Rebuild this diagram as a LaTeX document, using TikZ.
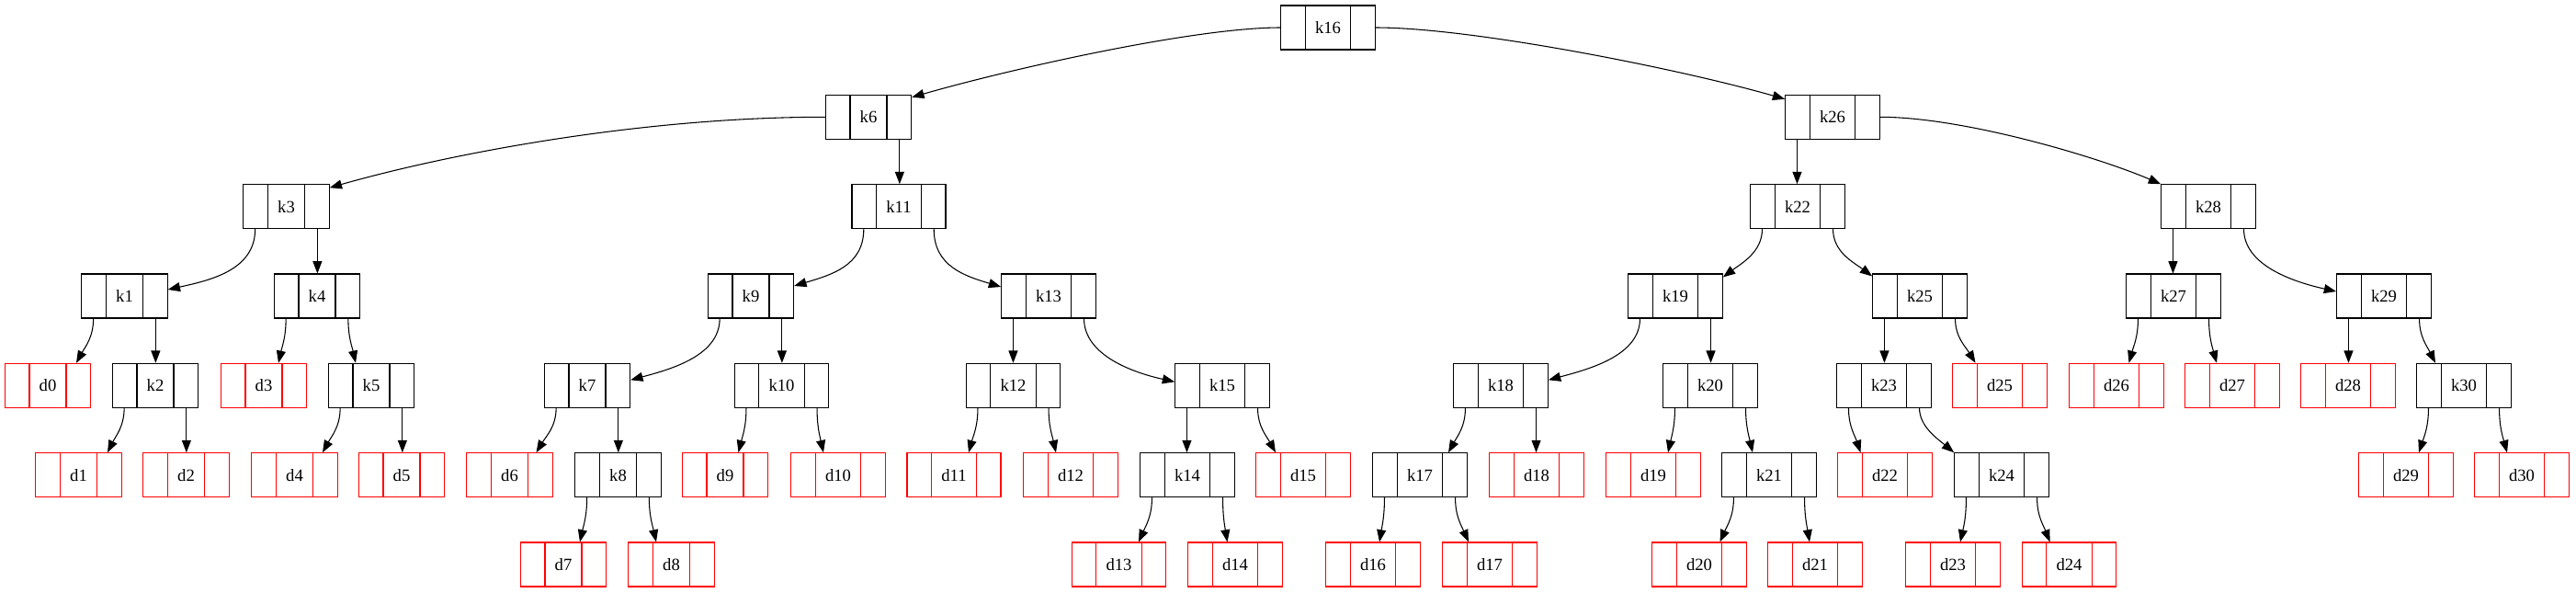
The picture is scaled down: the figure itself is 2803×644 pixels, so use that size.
\documentclass[tikz,border=0pt]{standalone}
\usepackage{fontspec}
\setmainfont{Liberation Serif}
\usetikzlibrary{arrows.meta,calc}
\tikzset{
  rec/.style={draw=#1, line width=0.8pt, inner xsep=28pt, inner ysep=0pt,
    minimum height=36pt, font=\fontsize{14pt}{16pt}\selectfont, text=black,
    path picture={
      \draw[#1, line width=0.8pt] ([xshift=20pt]path picture bounding box.south west) -- ([xshift=20pt]path picture bounding box.north west);
      \draw[#1, line width=0.8pt] ([xshift=-20pt]path picture bounding box.south east) -- ([xshift=-20pt]path picture bounding box.north east);}},
  kb/.style={rec=black},
  db/.style={rec=red},
  e/.style={draw=black, line width=0.8pt, -{Triangle[length=10pt,width=7.5pt]}},
}
\newcommand\recnode[4]{\node[#1] (#2) at (#3,#4) {#2};
  \coordinate (#2l) at ($(#2.south west)+(13.33,0)$);
  \coordinate (#2r) at ($(#2.south east)+(-13.33,0)$);}
\newcommand\vedge[2]{\draw[e] (#1) -- (#1 |- #2.north);}
\newcommand\tedge[4]{\draw[e] (#1) .. controls +(0,20) and +(#4,-18) .. ($(#2.north)+(#3,0)$);}
\begin{document}
\begin{tikzpicture}[x=0.75pt,y=-0.75pt]
\useasboundingbox (0,0) rectangle (2803,644);
% row 0
\recnode{kb}{k16}{1445}{30}
% row 1
\recnode{kb}{k6}{945}{127.3}
\recnode{kb}{k26}{1994}{127.3}
% row 2
\recnode{kb}{k3}{311.5}{224.7}
\recnode{kb}{k11}{978}{224.7}
\recnode{kb}{k22}{1956}{224.7}
\recnode{kb}{k28}{2403}{224.7}
% row 3
\recnode{kb}{k1}{135.5}{322}
\recnode{kb}{k4}{345}{322}
\recnode{kb}{k9}{817}{322}
\recnode{kb}{k13}{1141}{322}
\recnode{kb}{k19}{1823}{322}
\recnode{kb}{k25}{2089}{322}
\recnode{kb}{k27}{2365}{322}
\recnode{kb}{k29}{2594}{322}
% row 4
\recnode{db}{d0}{52}{419.3}
\recnode{kb}{k2}{169}{419.3}
\recnode{db}{d3}{287}{419.3}
\recnode{kb}{k5}{404}{419.3}
\recnode{kb}{k7}{639}{419.3}
\recnode{kb}{k10}{850.5}{419.3}
\recnode{kb}{k12}{1102.5}{419.3}
\recnode{kb}{k15}{1330}{419.3}
\recnode{kb}{k18}{1633}{419.3}
\recnode{kb}{k20}{1861}{419.3}
\recnode{kb}{k23}{2050}{419.3}
\recnode{db}{d25}{2176}{419.3}
\recnode{db}{d26}{2303}{419.3}
\recnode{db}{d27}{2429}{419.3}
\recnode{db}{d28}{2555}{419.3}
\recnode{kb}{k30}{2681}{419.3}
% row 5
\recnode{db}{d1}{85.5}{516.7}
\recnode{db}{d2}{202.5}{516.7}
\recnode{db}{d4}{320.5}{516.7}
\recnode{db}{d5}{437}{516.7}
\recnode{db}{d6}{554.5}{516.7}
\recnode{kb}{k8}{672.5}{516.7}
\recnode{db}{d9}{789}{516.7}
\recnode{db}{d10}{912}{516.7}
\recnode{db}{d11}{1038}{516.7}
\recnode{db}{d12}{1165}{516.7}
\recnode{kb}{k14}{1292}{516.7}
\recnode{db}{d15}{1418}{516.7}
\recnode{kb}{k17}{1545}{516.7}
\recnode{db}{d18}{1672}{516.7}
\recnode{db}{d19}{1799}{516.7}
\recnode{kb}{k21}{1925}{516.7}
\recnode{db}{d22}{2051}{516.7}
\recnode{kb}{k24}{2178}{516.7}
\recnode{db}{d29}{2618}{516.7}
\recnode{db}{d30}{2744}{516.7}
% row 6
\recnode{db}{d7}{613}{614}
\recnode{db}{d8}{730.5}{614}
\recnode{db}{d13}{1217.5}{614}
\recnode{db}{d14}{1344}{614}
\recnode{db}{d16}{1494}{614}
\recnode{db}{d17}{1621}{614}
\recnode{db}{d20}{1849}{614}
\recnode{db}{d21}{1975}{614}
\recnode{db}{d23}{2125}{614}
\recnode{db}{d24}{2251.5}{614}
% wide edges
\draw[e] (k16.west) .. controls +(-94,0) and +(108,-31) .. ($(k6.north east)+(0,3)$);
\draw[e] (k16.east) .. controls +(105,0) and +(-115,-33) .. ($(k26.north west)+(0,5)$);
\draw[e] (k6.west) .. controls +(-200,0) and +(130,-37) .. ($(k3.north east)+(0,4)$);
\draw[e] (k26.east) .. controls +(90,0) and +(-70,-30) .. (k28.north west);
% side edges
\draw[e] (k3l) .. controls +(0,45) and +(45,-10) .. ($(k1.east)+(0,-7)$);
\draw[e] (k11l) .. controls +(0,40) and +(40,-12) .. ($(k9.east)+(0,-11)$);
\draw[e] (k11r) .. controls +(0,40) and +(-40,-12) .. ($(k13.west)+(0,-10)$);
\draw[e] (k9l) .. controls +(0,40) and +(45,-12) .. ($(k7.east)+(0,-6)$);
\draw[e] (k13r) .. controls +(0,40) and +(-45,-10) .. ($(k15.west)+(0,-4)$);
\draw[e] (k19l) .. controls +(0,40) and +(45,-12) .. ($(k18.east)+(0,-6)$);
\draw[e] (k28r) .. controls +(0,40) and +(-45,-10) .. ($(k29.west)+(0,-5)$);
\draw[e] (k22l) .. controls +(0,25) and +(20,-15) .. ($(k19.north east)+(0,4)$);
\draw[e] (k22r) .. controls +(0,25) and +(-20,-15) .. ($(k25.north west)+(0,3)$);
\draw[e] (k23r) .. controls +(0,20) and +(-18,-15) .. (k24.north west);
% vertical edges
\vedge{k6r}{k11}
\vedge{k26l}{k22}
\vedge{k3r}{k4}
\vedge{k28l}{k27}
\vedge{k1r}{k2}
\vedge{k9r}{k10}
\vedge{k13l}{k12}
\vedge{k19r}{k20}
\vedge{k25l}{k23}
\vedge{k29l}{d28}
\vedge{k2r}{d2}
\vedge{k5r}{d5}
\vedge{k7r}{k8}
\vedge{k15l}{k14}
\vedge{k18r}{d18}
% short curved edges
\tedge{k1l}{d0}{31}{10}
\tedge{k4l}{d3}{16}{4}
\tedge{k4r}{k5}{-17}{-4}
\tedge{k25r}{d25}{-26.5}{-11}
\tedge{k27l}{d26}{13.5}{5}
\tedge{k27r}{d27}{-17}{-5}
\tedge{k29r}{k30}{-31}{-9}
\tedge{k2l}{d1}{31.5}{9}
\tedge{k5l}{d4}{30.5}{10}
\tedge{k7l}{d6}{29}{11}
\tedge{k10l}{d9}{14.5}{4.5}
\tedge{k10r}{d10}{-16}{-4}
\tedge{k12l}{d11}{16}{5}
\tedge{k12r}{d12}{-16}{-4}
\tedge{k15r}{d15}{-30}{-10}
\tedge{k18l}{k17}{31}{10}
\tedge{k20l}{d19}{16}{4}
\tedge{k20r}{k21}{-18}{-4}
\tedge{k23l}{d22}{-26.5}{-6}
\tedge{k30l}{d29}{14}{6}
\tedge{k30r}{d30}{-16}{-5}
\tedge{k8l}{d7}{18}{4}
\tedge{k8r}{d8}{-16.5}{-4}
\tedge{k14l}{d13}{21.5}{8}
\tedge{k14r}{d14}{-8.5}{-3}
\tedge{k17l}{d16}{7}{3}
\tedge{k17r}{d17}{-23}{-8}
\tedge{k21l}{d20}{22.5}{8}
\tedge{k21r}{d21}{-6}{-3}
\tedge{k24l}{d23}{8}{4}
\tedge{k24r}{d24}{-21}{-7}
\end{tikzpicture}
\end{document}
